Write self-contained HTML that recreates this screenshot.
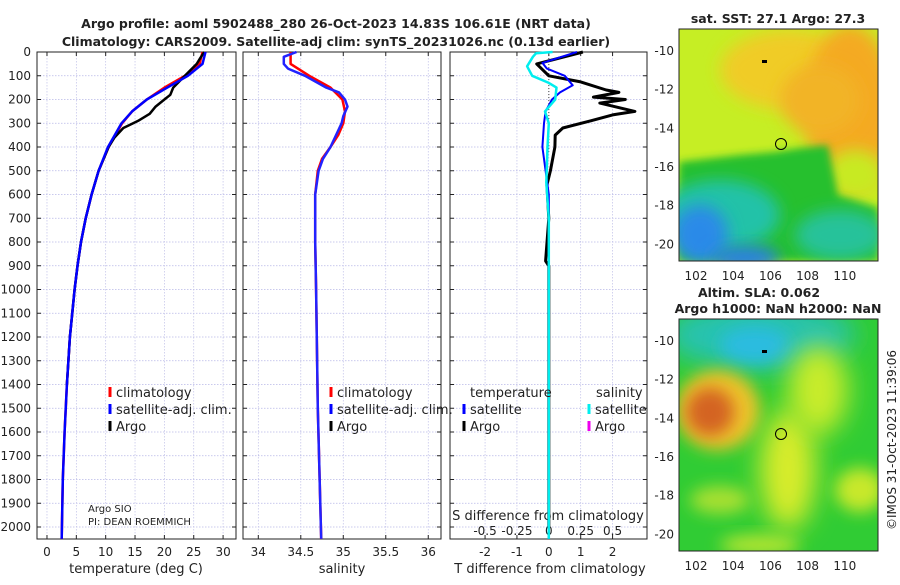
<!DOCTYPE html>
<html><head><meta charset="utf-8"><style>
body{margin:0;background:#fff;}
svg text{font-family:"DejaVu Sans","Liberation Sans",sans-serif;fill:#222;}
</style></head><body>
<svg id="c" width="900" height="580" viewBox="0 0 900 580" xmlns="http://www.w3.org/2000/svg">
<defs>
<filter id="bl" x="-50%" y="-50%" width="200%" height="200%"><feGaussianBlur stdDeviation="8"/></filter>
<filter id="bl3" x="-50%" y="-50%" width="200%" height="200%"><feGaussianBlur stdDeviation="4"/></filter>
<filter id="bl2" x="-50%" y="-50%" width="200%" height="200%"><feGaussianBlur stdDeviation="13"/></filter>
<clipPath id="m1"><rect x="679" y="29" width="199" height="232"/></clipPath>
<clipPath id="m2"><rect x="679" y="319" width="199" height="232"/></clipPath>
</defs>
<g font-weight="bold" font-size="12.5" text-anchor="middle">
<text x="336" y="28">Argo profile: aoml 5902488_280 26-Oct-2023 14.83S 106.61E (NRT data)</text>
<text x="336" y="46">Climatology: CARS2009. Satellite-adj clim: synTS_20231026.nc (0.13d earlier)</text>
</g>
<g id="plots"></g>
<!-- SST map -->
<g clip-path="url(#m1)">
<rect x="679" y="29" width="199" height="232" fill="#c6ee24"/>
<ellipse cx="790" cy="70" rx="70" ry="40" fill="#f0cc28" filter="url(#bl)"/>
<ellipse cx="850" cy="110" rx="45" ry="85" fill="#f4aa24" filter="url(#bl)"/>
<ellipse cx="820" cy="100" rx="40" ry="35" fill="#f2b426" filter="url(#bl)"/>
<ellipse cx="855" cy="175" rx="30" ry="25" fill="#c8ea24" filter="url(#bl)"/>
<polygon points="679,162 740,155 775,152 800,148 828,145 838,195 878,208 878,261 679,261" fill="#26c02e" filter="url(#bl3)"/>
<ellipse cx="720" cy="215" rx="60" ry="35" fill="#22c2a8" filter="url(#bl)"/>
<ellipse cx="840" cy="235" rx="45" ry="25" fill="#28c29a" filter="url(#bl)"/>
<ellipse cx="700" cy="235" rx="28" ry="30" fill="#2a8ae8" filter="url(#bl)"/>
<ellipse cx="745" cy="258" rx="35" ry="12" fill="#2c7ee8" filter="url(#bl)"/>
</g>
<rect x="679" y="29" width="199" height="232" fill="none" stroke="#222"/>
<circle cx="781" cy="144" r="5.5" fill="none" stroke="#000"/>
<rect x="762" y="60" width="5" height="3" fill="#000"/>
<!-- SLA map -->
<g clip-path="url(#m2)">
<rect x="679" y="319" width="199" height="232" fill="#30cc34"/>
<ellipse cx="760" cy="335" rx="95" ry="35" fill="#26c2b0" filter="url(#bl2)"/>
<ellipse cx="755" cy="345" rx="35" ry="18" fill="#2cbce0" filter="url(#bl)"/>
<ellipse cx="718" cy="410" rx="42" ry="40" fill="#eec22c" filter="url(#bl)"/>
<ellipse cx="710" cy="412" rx="24" ry="24" fill="#d46420" filter="url(#bl)"/>
<ellipse cx="788" cy="470" rx="28" ry="60" fill="#d8ec2c" filter="url(#bl2)"/>
<ellipse cx="818" cy="390" rx="30" ry="45" fill="#c8ec2c" filter="url(#bl2)"/>
<ellipse cx="860" cy="490" rx="25" ry="22" fill="#c8e82c" filter="url(#bl)"/>
<ellipse cx="720" cy="500" rx="30" ry="14" fill="#a8e030" filter="url(#bl)"/>
<ellipse cx="760" cy="545" rx="40" ry="10" fill="#b8e630" filter="url(#bl)"/>
</g>
<rect x="679" y="319" width="199" height="232" fill="none" stroke="#222"/>
<circle cx="781" cy="434" r="5.5" fill="none" stroke="#000"/>
<rect x="762" y="350" width="5" height="3" fill="#000"/>
<g font-size="12.5" text-anchor="middle" font-weight="bold">
<text x="778" y="23">sat. SST: 27.1 Argo: 27.3</text>
<text x="759" y="297">Altim. SLA: 0.062</text>
<text x="778" y="313">Argo h1000: NaN h2000: NaN</text>
</g>
<text transform="translate(896,440) rotate(-90)" font-size="12" text-anchor="middle">©IMOS 31-Oct-2023 11:39:06</text>
</svg>
<script>
// ---- data ----
const depthTicks=[0,100,200,300,400,500,600,700,800,900,1000,1100,1200,1300,1400,1500,1600,1700,1800,1900,2000];
const tTicks=[0,5,10,15,20,25,30];
const sTicks=[34,34.5,35,35.5,36];
const dTicks=[-2,-1,0,1,2];
const dTickLabels=['-2','-1','0','1','2'];
const sdTicks=[-0.5,-0.25,0,0.25,0.5];
const latTicks=[-10,-12,-14,-16,-18,-20];
const lonTicks=[102,104,106,108,110];

const climTD=[0,50,100,150,200,250,300,400,500,600,700,800,900,1000,1200,1400,1600,1800,2050];
const climT=[26.5,26,23.5,20,17,14.5,12.8,10.5,8.8,7.6,6.6,5.8,5.2,4.7,3.9,3.4,3.0,2.7,2.5];
const satT=[27,26.5,24,20.5,17,14.5,12.7,10.4,8.8,7.6,6.6,5.8,5.2,4.7,3.9,3.4,3.0,2.7,2.5];
const argoTD=[0,30,50,100,150,180,200,230,260,290,320,360,400,500,600,700,800,900,1000,1200,1400];
const argoT=[26.8,26,25.5,23.5,21.5,21,20,18.5,17.5,15.5,13,11.5,10.5,8.8,7.6,6.6,5.8,5.2,4.7,3.9,3.4];

const salD=[0,50,100,150,200,250,300,350,400,450,500,600,800,1000,1500,2050];
const climS=[34.38,34.38,34.6,34.85,34.99,35.02,35.0,34.94,34.85,34.75,34.7,34.67,34.67,34.68,34.7,34.74];
const satSD=[0,20,50,70,100,150,170,200,230,270,300,400,450,500,600,800,1000,1500,2050];
const satS=[34.45,34.3,34.3,34.35,34.55,34.8,34.95,35.02,35.05,35.0,34.98,34.85,34.76,34.71,34.67,34.67,34.68,34.7,34.74];

const dTD=[0,50,100,126,160,170,190,200,215,250,265,290,320,350,400,500,560,700,880,900,1000,1500,2000];
const dTArgo=[1.07,-0.38,0,1.0,1.8,2.2,1.4,2.4,1.6,2.7,2.0,1.3,0.44,0.2,0.19,0.05,-0.06,0,-0.1,0,0,0,0];
const dTSD=[0,46,70,100,140,170,200,250,300,400,500,600,1000,2050];
const dTSat=[0.88,-0.2,-0.06,0.5,0.75,0.35,0.1,-0.1,-0.15,-0.2,-0.1,0,0,0];
const dSD=[0,5,20,60,100,130,150,200,250,300,400,550,700,1000,2050];
const dSSat=[0.03,-0.1,-0.125,-0.17,-0.13,0,0.06,0.05,-0.03,0,-0.01,-0.02,0,0,0];

// ---- layout ----
const NS='http://www.w3.org/2000/svg';
const root=document.getElementById('plots');
const Y0=52,Y1=539;
const yD=d=>Y0+(d)*(527-52)/2000;
function mk(tag,at,par){const e=document.createElementNS(NS,tag);for(const k in at)e.setAttribute(k,at[k]);(par||root).appendChild(e);return e;}
function txt(x,y,s,at){const e=mk('text',Object.assign({x:x,y:y},at||{}));e.textContent=s;return e;}
const P=[{x0:37,x1:236,lo:-1.7,hi:32.2},{x0:243,x1:441,lo:33.82,hi:36.15},{x0:450,x1:647,lo:-3.1,hi:3.08}];
P.forEach(p=>p.sx=v=>p.x0+(v-p.lo)/(p.hi-p.lo)*(p.x1-p.x0));
const sdx=v=>P[2].sx(v*4);

function grid(p,ticks,name){
  const g=mk('g',{});
  
  
  depthTicks.forEach(d=>mk('line',{x1:p.x0,x2:p.x1,y1:yD(d),y2:yD(d),stroke:'#b8b8e8','stroke-width':0.7,'stroke-dasharray':'1.5,1.5'},g));
  ticks.forEach(t=>mk('line',{x1:p.sx(t),x2:p.sx(t),y1:Y0,y2:Y1,stroke:'#c0c0e8','stroke-width':0.7,'stroke-dasharray':'1.5,1.5'},g));
  depthTicks.forEach(d=>{mk('line',{x1:p.x0,x2:p.x0+4,y1:yD(d),y2:yD(d),stroke:'#222'},g);mk('line',{x1:p.x1-4,x2:p.x1,y1:yD(d),y2:yD(d),stroke:'#222'},g);});
  ticks.forEach(t=>{mk('line',{x1:p.sx(t),x2:p.sx(t),y1:Y1,y2:Y1-4,stroke:'#222'},g);mk('line',{x1:p.sx(t),x2:p.sx(t),y1:Y0,y2:Y0+4,stroke:'#222'},g);});
  mk('rect',{x:p.x0,y:Y0,width:p.x1-p.x0,height:Y1-Y0,fill:'none',stroke:'#222'},g);
}
function line(xs,ds,fx,col,w,name){
  const pts=xs.map((v,i)=>fx(v).toFixed(1)+','+yD(ds[i]).toFixed(1)).join(' ');
  const e=mk('polyline',{points:pts,fill:'none',stroke:col,'stroke-width':w,'stroke-linejoin':'round'});
  
  
}
grid(P[0],tTicks,'temperature-panel');
grid(P[1],sTicks,'salinity-panel');
grid(P[2],dTicks,'difference-panel');
depthTicks.forEach(d=>{const e=txt(31,yD(d)+4,String(d),{'font-size':12,'text-anchor':'end'});

});
tTicks.forEach(t=>{const e=txt(P[0].sx(t),556,String(t),{'font-size':12,'text-anchor':'middle'});

});
sTicks.forEach(t=>{const e=txt(P[1].sx(t),556,String(t),{'font-size':12,'text-anchor':'middle'});

});
dTicks.forEach((t,i)=>{const e=txt(P[2].sx(t),556,dTickLabels[i],{'font-size':12,'text-anchor':'middle'});

});
sdTicks.forEach(t=>{const e=txt(sdx(t),535,String(t),{'font-size':12,'text-anchor':'middle'});

});
[['temperature (deg C)',136,'temperature-axis-title'],['salinity',342,'salinity-axis-title'],['T difference from climatology',550,'t-diff-axis-title']].forEach(a=>{
const e=txt(a[1],573,a[0],{'font-size':13,'text-anchor':'middle'});

});
{const e=txt(548,520,'S difference from climatology',{'font-size':13,'text-anchor':'middle'});

}
{const e=txt(88,512,'Argo SIO',{'font-size':10});

}
{const e=txt(88,525,'PI: DEAN ROEMMICH',{'font-size':10});

}
{const e=mk('line',{x1:P[2].sx(0),x2:P[2].sx(0),y1:Y0,y2:yD(420),stroke:'#444','stroke-dasharray':'1,2'});

}
line(climT,climTD,P[0].sx,'#f00',2.5,'temperature-climatology-line');
line(argoT,argoTD,P[0].sx,'#000',2.5,'temperature-argo-line');
line(satT,climTD,P[0].sx,'#00f',2.5,'temperature-satellite-line');
line(climS,salD,P[1].sx,'#f00',2.5,'salinity-climatology-line');
line(satS,satSD,P[1].sx,'#22f',2.5,'salinity-satellite-line');
line(dTArgo,dTD,P[2].sx,'#000',3,'t-diff-argo-line');
line(dTSat,dTSD,P[2].sx,'#00f',2,'t-diff-satellite-line');
line(dSSat,dSD,sdx,'#0ee',2.5,'s-diff-satellite-line');
function leg(x,y,col,label,name){
  const g=mk('g',{});
  
  
  mk('line',{x1:x,x2:x,y1:y-10,y2:y,stroke:col,'stroke-width':3},g);
  const t=mk('text',{x:x+6,y:y,'font-size':13},g);t.textContent=label;
}
leg(110,397,'#f00','climatology','legend-climatology');
leg(110,414,'#00f','satellite-adj. clim.','legend-satellite');
leg(110,431,'#000','Argo','legend-argo');
leg(331,397,'#f00','climatology','legend-s-climatology');
leg(331,414,'#00f','satellite-adj. clim.','legend-s-satellite');
leg(331,431,'#000','Argo','legend-s-argo');
{const e=txt(470,397,'temperature',{'font-size':13});}
{const e=txt(596,397,'salinity',{'font-size':13});}
leg(464,414,'#00f','satellite','legend-t-satellite');
leg(464,431,'#000','Argo','legend-t-argo');
leg(589,414,'#0ee','satellite','legend-s-sat');
leg(589,431,'#e0e','Argo','legend-s-argo2');
// map axes
const mlat=(v,top)=>top+(-8.86-v)*19.33;
const mlon=v=>696+(v-102)*18.6;
[[29,261],[319,551]].forEach(m=>{
  latTicks.forEach(l=>{const y=mlat(l,m[0]);
    mk('line',{x1:679,x2:683,y1:y,y2:y,stroke:'#222'});mk('line',{x1:874,x2:878,y1:y,y2:y,stroke:'#222'});
    const e=txt(674,y+4,String(l),{'font-size':12,'text-anchor':'end'});
    
    });
  lonTicks.forEach(l=>{const x=mlon(l);
    mk('line',{x1:x,x2:x,y1:m[1],y2:m[1]-4,stroke:'#222'});
    const e=txt(x,m[1]+19,String(l),{'font-size':12,'text-anchor':'middle'});
    
    });
});
</script>
</body></html>
